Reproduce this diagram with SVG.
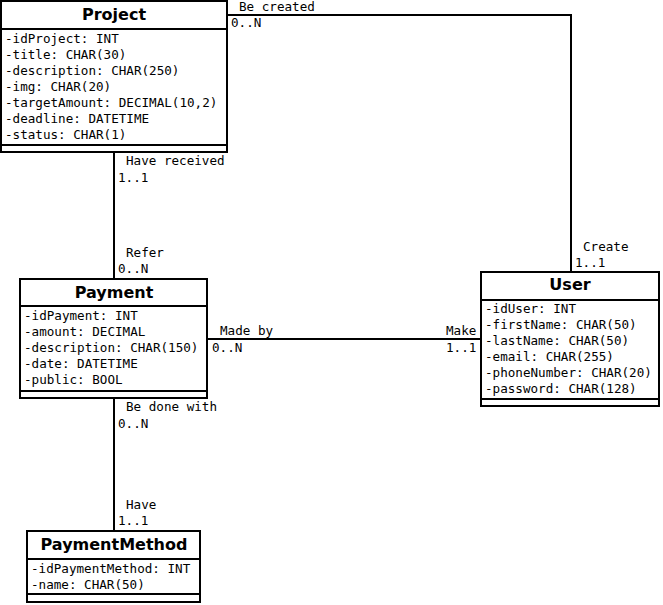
<svg xmlns="http://www.w3.org/2000/svg" width="663" height="605" viewBox="0 0 663 605">
<style>
.box{fill:#fff;stroke:#000;stroke-width:2}
.sep{stroke:#000;stroke-width:2}
.ttl{font-family:"DejaVu Sans",sans-serif;font-weight:bold;font-size:16px;text-anchor:middle}
.at{font-family:"DejaVu Sans Mono",monospace;font-size:12.6px}
.lb{font-family:"DejaVu Sans Mono",monospace;font-size:12.6px}
.ln{fill:none;stroke:#000;stroke-width:2}
</style>
<rect width="663" height="605" fill="#fff"/>
<g id="connectors">
<polyline class="ln" points="227,15 571,15 571,272"/>
<line class="ln" x1="114" y1="152" x2="114" y2="279"/>
<line class="ln" x1="207" y1="339" x2="481" y2="339"/>
<line class="ln" x1="114" y1="398" x2="114" y2="531"/>
<text class="lb" x="239" y="11">Be created</text>
<text class="lb" x="231" y="27">0..N</text>
<text class="lb" x="583" y="251">Create</text>
<text class="lb" x="575" y="267">1..1</text>
<text class="lb" x="126" y="165">Have received</text>
<text class="lb" x="118" y="182">1..1</text>
<text class="lb" x="126" y="257">Refer</text>
<text class="lb" x="118" y="273">0..N</text>
<text class="lb" x="220" y="335">Made by</text>
<text class="lb" x="212" y="352">0..N</text>
<text class="lb" x="446" y="335">Make</text>
<text class="lb" x="446" y="352">1..1</text>
<text class="lb" x="126" y="411">Be done with</text>
<text class="lb" x="118" y="428">0..N</text>
<text class="lb" x="126" y="509">Have</text>
<text class="lb" x="118" y="525">1..1</text>
</g>
<g id="project">
<rect class="box" x="1" y="1" width="226" height="151"/>
<line class="sep" x1="1" y1="29" x2="227" y2="29"/>
<line class="sep" x1="1" y1="145" x2="227" y2="145"/>
<text class="ttl" x="114" y="20">Project</text>
<text class="at" x="5" y="43">-idProject: INT</text>
<text class="at" x="5" y="59">-title: CHAR(30)</text>
<text class="at" x="5" y="75">-description: CHAR(250)</text>
<text class="at" x="5" y="91">-img: CHAR(20)</text>
<text class="at" x="5" y="107">-targetAmount: DECIMAL(10,2)</text>
<text class="at" x="5" y="123">-deadline: DATETIME</text>
<text class="at" x="5" y="139">-status: CHAR(1)</text>
</g>
<g id="payment">
<rect class="box" x="20" y="279" width="187" height="119"/>
<line class="sep" x1="20" y1="306" x2="207" y2="306"/>
<line class="sep" x1="20" y1="391" x2="207" y2="391"/>
<text class="ttl" x="114" y="298">Payment</text>
<text class="at" x="24" y="320">-idPayment: INT</text>
<text class="at" x="24" y="336">-amount: DECIMAL</text>
<text class="at" x="24" y="352">-description: CHAR(150)</text>
<text class="at" x="24" y="368">-date: DATETIME</text>
<text class="at" x="24" y="384">-public: BOOL</text>
</g>
<g id="user">
<rect class="box" x="481" y="272" width="178" height="134"/>
<line class="sep" x1="481" y1="300" x2="659" y2="300"/>
<line class="sep" x1="481" y1="399" x2="659" y2="399"/>
<text class="ttl" x="570" y="290">User</text>
<text class="at" x="485" y="313">-idUser: INT</text>
<text class="at" x="485" y="329">-firstName: CHAR(50)</text>
<text class="at" x="485" y="345">-lastName: CHAR(50)</text>
<text class="at" x="485" y="361">-email: CHAR(255)</text>
<text class="at" x="485" y="377">-phoneNumber: CHAR(20)</text>
<text class="at" x="485" y="393">-password: CHAR(128)</text>
</g>
<g id="paymentmethod">
<rect class="box" x="27" y="531" width="173" height="71"/>
<line class="sep" x1="27" y1="559" x2="200" y2="559"/>
<line class="sep" x1="27" y1="594" x2="200" y2="594"/>
<text class="ttl" x="114" y="550">PaymentMethod</text>
<text class="at" x="31" y="573">-idPaymentMethod: INT</text>
<text class="at" x="31" y="589">-name: CHAR(50)</text>
</g>
</svg>
